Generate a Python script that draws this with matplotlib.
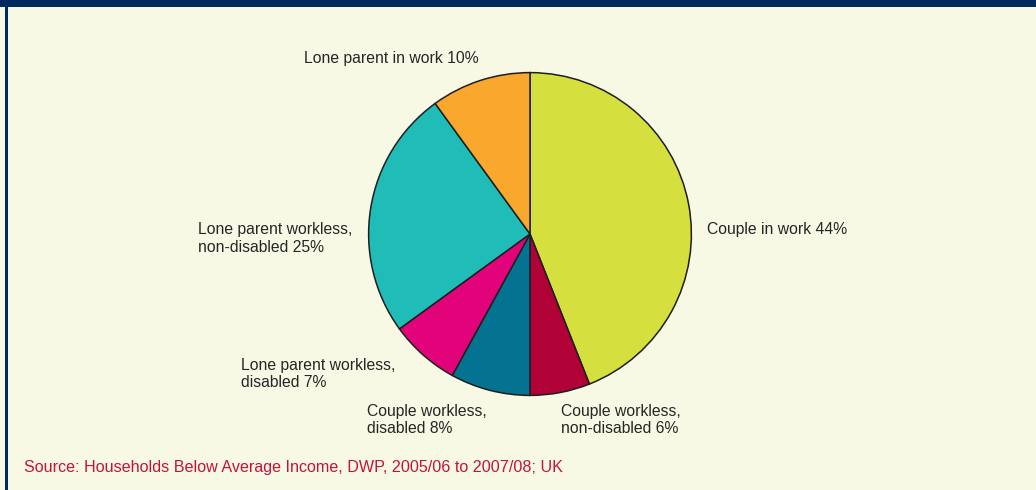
import matplotlib
matplotlib.use("Agg")
import matplotlib.pyplot as plt
from matplotlib.patches import Rectangle

plt.rcParams['font.family'] = ['Liberation Sans', 'DejaVu Sans']

categories = [
    "Couple in work 44%",
    "Couple workless,\nnon-disabled 6%",
    "Couple workless,\ndisabled 8%",
    "Lone parent workless,\ndisabled 7%",
    "Lone parent workless,\nnon-disabled 25%",
    "Lone parent in work 10%",
]
values = [44, 6, 8, 7, 25, 10]
colors = ["#d5e03f", "#b00236", "#037391", "#e2037a", "#20bcb8", "#f9a72d"]
source = "Source: Households Below Average Income, DWP, 2005/06 to 2007/08; UK"

# label positions in pixels (left x, vertical centre y from top)
label_pos = [(707, 229), (561, 420), (367, 420), (241, 374), (198, 238.5), (304, 58)]

W, H = 1036, 490
bg = "#f7f9e5"
navy = "#002a5e"
fig = plt.figure(figsize=(W / 100, H / 100), dpi=100, facecolor=bg)

# border decoration
fig.patches.append(Rectangle((0, 1 - 7 / H), 1, 7 / H, transform=fig.transFigure,
                             facecolor=navy, edgecolor="none", zorder=5))
fig.patches.append(Rectangle((0, 1 - 7.5 / H), 1, 0.8 / H, transform=fig.transFigure,
                             facecolor="#4a6a9a", edgecolor="none", zorder=5))
fig.patches.append(Rectangle((5 / W, 0), 3 / W, 1, transform=fig.transFigure,
                             facecolor=navy, edgecolor="none", zorder=5))

cx, cy, r = 530, 234, 163
ax = fig.add_axes([(cx - r) / W, (H - cy - r) / H, 2 * r / W, 2 * r / H])
ax.set_facecolor(bg)
ax.pie(values, colors=colors, startangle=90, counterclock=False, radius=1,
       wedgeprops=dict(edgecolor="#1e1e1e", linewidth=1.1))
ax.set_xlim(-1.01, 1.01)
ax.set_ylim(-1.01, 1.01)
ax.set_aspect("equal")
ax.axis("off")

for lab, (x, y) in zip(categories, label_pos):
    fig.text(x / W, 1 - y / H, lab, ha="left", va="center", fontsize=11.3,
             color="#262626", linespacing=1.2)

fig.text(24 / W, 1 - 467 / H, source, ha="left", va="center", fontsize=11.6,
         color="#c4123f")

fig.savefig("out.png", dpi=100, facecolor=bg)
